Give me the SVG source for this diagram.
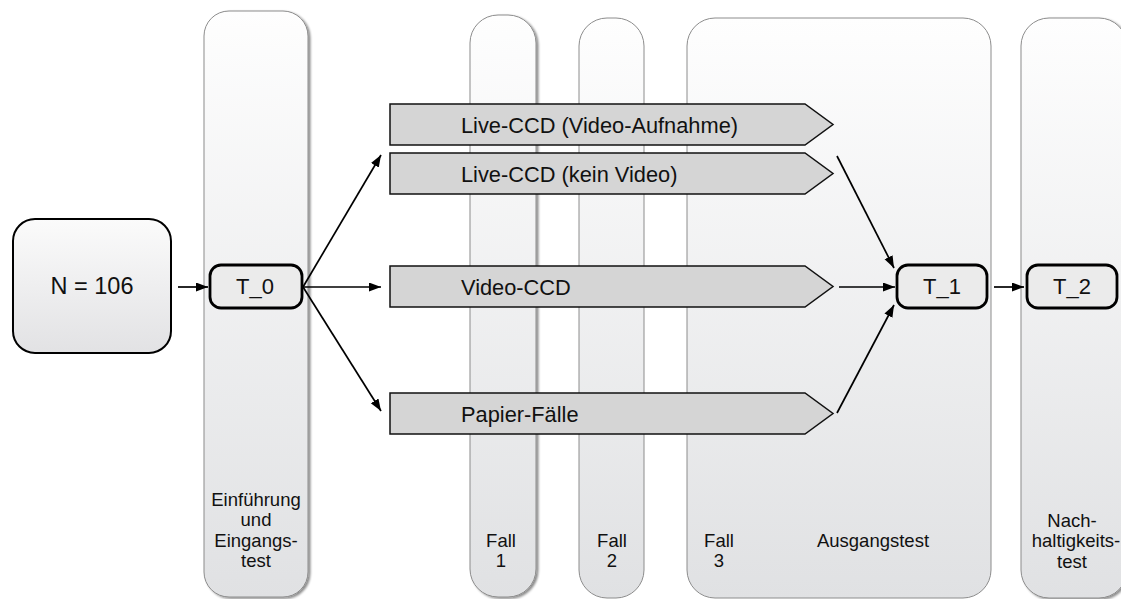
<svg xmlns="http://www.w3.org/2000/svg" width="1121" height="599" viewBox="0 0 1121 599">
<defs>
<linearGradient id="colg" x1="0" y1="0" x2="0" y2="1">
<stop offset="0" stop-color="#fefefe"/>
<stop offset="1" stop-color="#e0e1e3"/>
</linearGradient>
<linearGradient id="ng" x1="0" y1="0" x2="0" y2="1">
<stop offset="0" stop-color="#fbfbfb"/>
<stop offset="1" stop-color="#e2e2e4"/>
</linearGradient>
<filter id="sh" x="-10%" y="-5%" width="130%" height="110%">
<feDropShadow dx="2" dy="1.5" stdDeviation="1" flood-color="#000" flood-opacity="0.45"/>
</filter>
<marker id="ah" markerUnits="userSpaceOnUse" markerWidth="13" markerHeight="10" refX="12" refY="4.5" orient="auto">
<path d="M0,0 L12,4.5 L0,9 z" fill="#000"/>
</marker>
<style>
.col{fill:url(#colg);stroke:#8c8c8c;stroke-width:1}
.lbl{font-family:"Liberation Sans",Arial,sans-serif;font-size:18.5px;fill:#111;text-anchor:middle}
.pent{fill:#d5d5d5;stroke:#111;stroke-width:1.5}
.ptxt{font-family:"Liberation Sans",Arial,sans-serif;font-size:21.8px;fill:#111}
.tbox{fill:#ebebeb;stroke:#000;stroke-width:2.8}
.ttxt{font-family:"Liberation Sans",Arial,sans-serif;font-size:22px;fill:#111;text-anchor:middle}
.con{stroke:#000;stroke-width:1.7;fill:none;marker-end:url(#ah)}
</style>
</defs>
<rect width="1121" height="599" fill="#fff"/>
<g id="col-eingang">
<rect class="col" x="204" y="11" width="104" height="586" rx="25" filter="url(#sh)"/>
<text class="lbl" x="256" y="506">Einführung</text>
<text class="lbl" x="256" y="526">und</text>
<text class="lbl" x="256" y="547">Eingangs-</text>
<text class="lbl" x="256" y="567">test</text>
</g>
<g id="col-fall1">
<rect class="col" x="470" y="15" width="66" height="582" rx="28" filter="url(#sh)"/>
<text class="lbl" x="501" y="547">Fall</text>
<text class="lbl" x="501" y="567">1</text>
</g>
<g id="col-fall2">
<rect class="col" x="579" y="18" width="65" height="580" rx="28"/>
<text class="lbl" x="612" y="547">Fall</text>
<text class="lbl" x="612" y="567">2</text>
</g>
<g id="col-ausgang">
<rect class="col" x="687" y="18" width="304" height="580" rx="28"/>
<text class="lbl" x="719" y="547">Fall</text>
<text class="lbl" x="719" y="567">3</text>
<text class="lbl" x="873" y="547">Ausgangstest</text>
</g>
<g id="col-nach">
<rect class="col" x="1021" y="18" width="106" height="580" rx="28" filter="url(#sh)"/>
<text class="lbl" x="1072" y="527">Nach-</text>
<text class="lbl" x="1076" y="547">haltigkeits-</text>
<text class="lbl" x="1072" y="568">test</text>
</g>
<g id="p-live-video">
<path class="pent" d="M390,104 L805,104 L833,124.5 L805,145 L390,145 Z"/>
<text class="ptxt" x="461" y="133">Live-CCD (Video-Aufnahme)</text>
</g>
<g id="p-live-kein">
<path class="pent" d="M390,153 L805,153 L833,173.5 L805,194 L390,194 Z"/>
<text class="ptxt" x="461" y="182">Live-CCD (kein Video)</text>
</g>
<g id="p-video">
<path class="pent" d="M390,266 L805,266 L833,286.5 L805,307 L390,307 Z"/>
<text class="ptxt" x="461" y="295">Video-CCD</text>
</g>
<g id="p-papier">
<path class="pent" d="M390,393 L805,393 L833,413.5 L805,434 L390,434 Z"/>
<text class="ptxt" x="461" y="422">Papier-Fälle</text>
</g>
<g id="n106">
<rect x="13" y="219" width="158" height="134" rx="22" fill="url(#ng)" stroke="#000" stroke-width="2"/>
<text x="92" y="294" font-family="Liberation Sans, Arial, sans-serif" font-size="23.5" fill="#111" text-anchor="middle">N = 106</text>
</g>
<g id="t0">
<rect class="tbox" x="210" y="265" width="92" height="43" rx="11"/>
<text class="ttxt" x="255" y="294">T_0</text>
</g>
<g id="t1">
<rect class="tbox" x="897" y="265" width="90" height="43" rx="11"/>
<text class="ttxt" x="942" y="294">T_1</text>
</g>
<g id="t2">
<rect class="tbox" x="1027" y="265" width="90" height="43" rx="11"/>
<text class="ttxt" x="1072" y="294">T_2</text>
</g>
<g id="connectors">
<line class="con" x1="178" y1="287" x2="208" y2="287"/>
<line class="con" x1="303" y1="287" x2="381" y2="155"/>
<line class="con" x1="303" y1="287" x2="381" y2="287"/>
<line class="con" x1="303" y1="287" x2="381" y2="411"/>
<line class="con" x1="837" y1="156" x2="894" y2="268"/>
<line class="con" x1="839" y1="287" x2="895" y2="287"/>
<line class="con" x1="837" y1="413" x2="894" y2="305"/>
<line class="con" x1="994" y1="287" x2="1024" y2="287"/>
</g>
</svg>
